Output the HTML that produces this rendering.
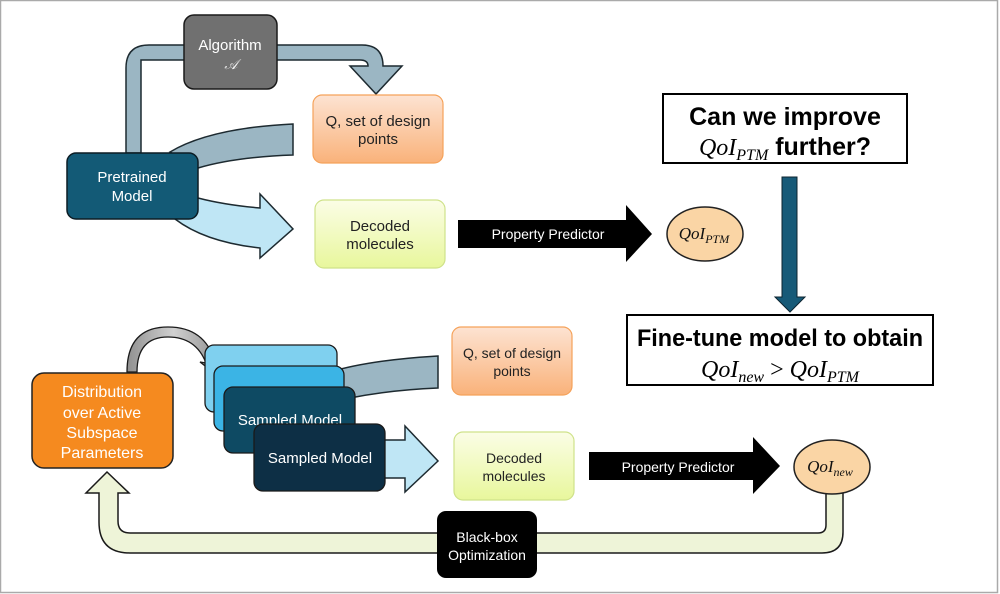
<!DOCTYPE html>
<html><head><meta charset="utf-8"><style>
html,body{margin:0;padding:0;background:#fff}
svg{display:block}
text{font-family:"Liberation Sans",sans-serif}
.m{font-family:"Liberation Serif",serif;font-style:italic}
</style></head><body>
<svg width="1000" height="594" viewBox="0 0 1000 594" xmlns="http://www.w3.org/2000/svg">
<defs>
<linearGradient id="og" x1="0" y1="0" x2="0" y2="1"><stop offset="0" stop-color="#fde3d2"/><stop offset="1" stop-color="#f9b27a"/></linearGradient>
<linearGradient id="yg" x1="0" y1="0" x2="0" y2="1"><stop offset="0" stop-color="#fbfde6"/><stop offset="1" stop-color="#e8f79c"/></linearGradient>
<linearGradient id="gg" x1="0" y1="0" x2="1" y2="0"><stop offset="0" stop-color="#909090"/><stop offset="0.5" stop-color="#d0d0d0"/><stop offset="1" stop-color="#909090"/></linearGradient>
</defs>
<rect x="0.5" y="0.5" width="997" height="592" fill="#fff" stroke="#aaa" stroke-width="1.5"/>

<path d="M126,153 V68 Q126,45 149,45 H362 Q383,45 383,66 H402 L376,94 L350,66 H368 Q368,60 360,60 H141 V153 Z" fill="#9bb6c3" stroke="#1d2a30" stroke-width="1.5"/>
<rect x="184" y="15" width="93" height="74" rx="10" fill="#707070" stroke="#1a1a1a" stroke-width="1.5"/>
<text x="230" y="50" text-anchor="middle" font-size="15" fill="#fff">Algorithm</text>
<text x="231" y="69" text-anchor="middle" font-size="14" fill="#eee" class="m">𝒜</text>

<path d="M170,152 Q210,128 293,124 V155 Q235,157 198,168 Z" fill="#9bb6c3" stroke="#1d2a30" stroke-width="1.5"/>
<path d="M175,219 Q205,242 260,248 V258 L293,229 L260,194 V208 Q225,205 198,198 Z" fill="#bfe6f5" stroke="#1d2a30" stroke-width="1.5"/>
<rect x="67" y="153" width="131" height="66" rx="9" fill="#135a76" stroke="#0c1c24" stroke-width="1.5"/>
<text x="132" y="182" text-anchor="middle" font-size="15" fill="#fff">Pretrained</text>
<text x="132" y="201" text-anchor="middle" font-size="15" fill="#fff">Model</text>

<rect x="313" y="95" width="130" height="68" rx="9" fill="url(#og)" stroke="#f5a25a" stroke-width="1.2"/>
<text x="378" y="126" text-anchor="middle" font-size="15" fill="#222">Q, set of design</text>
<text x="378" y="144" text-anchor="middle" font-size="15" fill="#222">points</text>
<rect x="315" y="200" width="130" height="68" rx="9" fill="url(#yg)" stroke="#cfe28a" stroke-width="1.2"/>
<text x="380" y="231" text-anchor="middle" font-size="15" fill="#222">Decoded</text>
<text x="380" y="249" text-anchor="middle" font-size="15" fill="#222">molecules</text>

<path d="M458,220 H626 V205 L652,234 L626,262 V248 H458 Z" fill="#000"/>
<text x="548" y="239" text-anchor="middle" font-size="14" fill="#fff">Property Predictor</text>
<ellipse cx="705" cy="234" rx="38" ry="27" fill="#fad5a5" stroke="#222" stroke-width="1.5"/>
<text x="704" y="239" text-anchor="middle" font-size="17" class="m" fill="#111">QoI<tspan font-size="12" dy="4">PTM</tspan></text>

<rect x="663" y="94" width="244" height="69" fill="#fff" stroke="#000" stroke-width="2"/>
<text x="785" y="125" text-anchor="middle" font-size="25" font-weight="bold" fill="#000">Can we improve</text>
<text x="785" y="155" text-anchor="middle" font-size="25" fill="#000"><tspan class="m" font-size="24">QoI</tspan><tspan class="m" font-size="16" dy="5">PTM</tspan><tspan dy="-5" font-weight="bold"> further?</tspan></text>

<path d="M782,177 H797 V297 H805 L790,312 L775,297 H782 Z" fill="#175a78" stroke="#0c2430" stroke-width="1"/>

<rect x="627" y="315" width="306" height="70" fill="#fff" stroke="#000" stroke-width="2"/>
<text x="780" y="346" text-anchor="middle" font-size="24" font-weight="bold" fill="#000" textLength="286" lengthAdjust="spacingAndGlyphs">Fine-tune model to obtain</text>
<text x="780" y="377" text-anchor="middle" font-size="24" class="m" fill="#000">QoI<tspan font-size="16" dy="5">new</tspan><tspan dy="-5" font-style="normal"> &gt; </tspan>QoI<tspan font-size="16" dy="5">PTM</tspan></text>

<path d="M826,493 V525 Q826,533 818,533 H130 Q118,533 118,521 V493 H129 L107,472 L86,493 H99 V522 Q99,553 130,553 H822 Q843,553 843,532 V493 Z" fill="#eef4d8" stroke="#1a1a1a" stroke-width="1.5"/>

<path d="M127,372 Q127,327 168,327 Q205,327 215,362 L220,360 L213,372 L200,362 L206,363 Q196,337 168,337 Q137,337 137,372 Z" fill="url(#gg)" stroke="#1a1a1a" stroke-width="1.3"/>

<rect x="32" y="373" width="141" height="95" rx="12" fill="#f58a1f" stroke="#222" stroke-width="1.5"/>
<text x="102" y="397" text-anchor="middle" font-size="16" fill="#fff">Distribution</text>
<text x="102" y="418" text-anchor="middle" font-size="16" fill="#fff">over Active</text>
<text x="102" y="438" text-anchor="middle" font-size="16" fill="#fff">Subspace</text>
<text x="102" y="458" text-anchor="middle" font-size="16" fill="#fff">Parameters</text>

<path d="M330,372 Q370,360 438,356 V388 Q390,390 350,398 Z" fill="#9bb6c3" stroke="#1d2a30" stroke-width="1.5"/>
<path d="M380,440 H405 V426 L438,461 L405,492 V478 H380 Z" fill="#bfe6f5" stroke="#1d2a30" stroke-width="1.5"/>

<rect x="205" y="345" width="132" height="67" rx="9" fill="#7fd0ef" stroke="#1a1a1a" stroke-width="1.3"/>
<rect x="214" y="366" width="130" height="65" rx="9" fill="#3bb4e5" stroke="#1a1a1a" stroke-width="1.3"/>
<rect x="224" y="387" width="131" height="66" rx="9" fill="#0e4a63" stroke="#1a1a1a" stroke-width="1.3"/>
<text x="290" y="425" text-anchor="middle" font-size="15" fill="#fff">Sampled Model</text>
<rect x="254" y="424" width="131" height="67" rx="9" fill="#0d2f45" stroke="#1a1a1a" stroke-width="1.3"/>
<text x="320" y="463" text-anchor="middle" font-size="15" fill="#fff">Sampled Model</text>

<rect x="452" y="327" width="120" height="68" rx="9" fill="url(#og)" stroke="#f5a25a" stroke-width="1.2"/>
<text x="512" y="358" text-anchor="middle" font-size="14" fill="#222">Q, set of design</text>
<text x="512" y="376" text-anchor="middle" font-size="14" fill="#222">points</text>
<rect x="454" y="432" width="120" height="68" rx="9" fill="url(#yg)" stroke="#cfe28a" stroke-width="1.2"/>
<text x="514" y="463" text-anchor="middle" font-size="14" fill="#222">Decoded</text>
<text x="514" y="481" text-anchor="middle" font-size="14" fill="#222">molecules</text>

<path d="M589,452 H753 V437 L780,466 L753,494 V480 H589 Z" fill="#000"/>
<text x="678" y="472" text-anchor="middle" font-size="14" fill="#fff">Property Predictor</text>
<ellipse cx="832" cy="467" rx="38" ry="27" fill="#fad5a5" stroke="#222" stroke-width="1.5"/>
<text x="830" y="472" text-anchor="middle" font-size="17" class="m" fill="#111">QoI<tspan font-size="12" dy="4">new</tspan></text>

<rect x="437" y="511" width="100" height="67" rx="9" fill="#000"/>
<text x="487" y="542" text-anchor="middle" font-size="14" fill="#fff">Black-box</text>
<text x="487" y="560" text-anchor="middle" font-size="14" fill="#fff">Optimization</text>
</svg>
</body></html>
